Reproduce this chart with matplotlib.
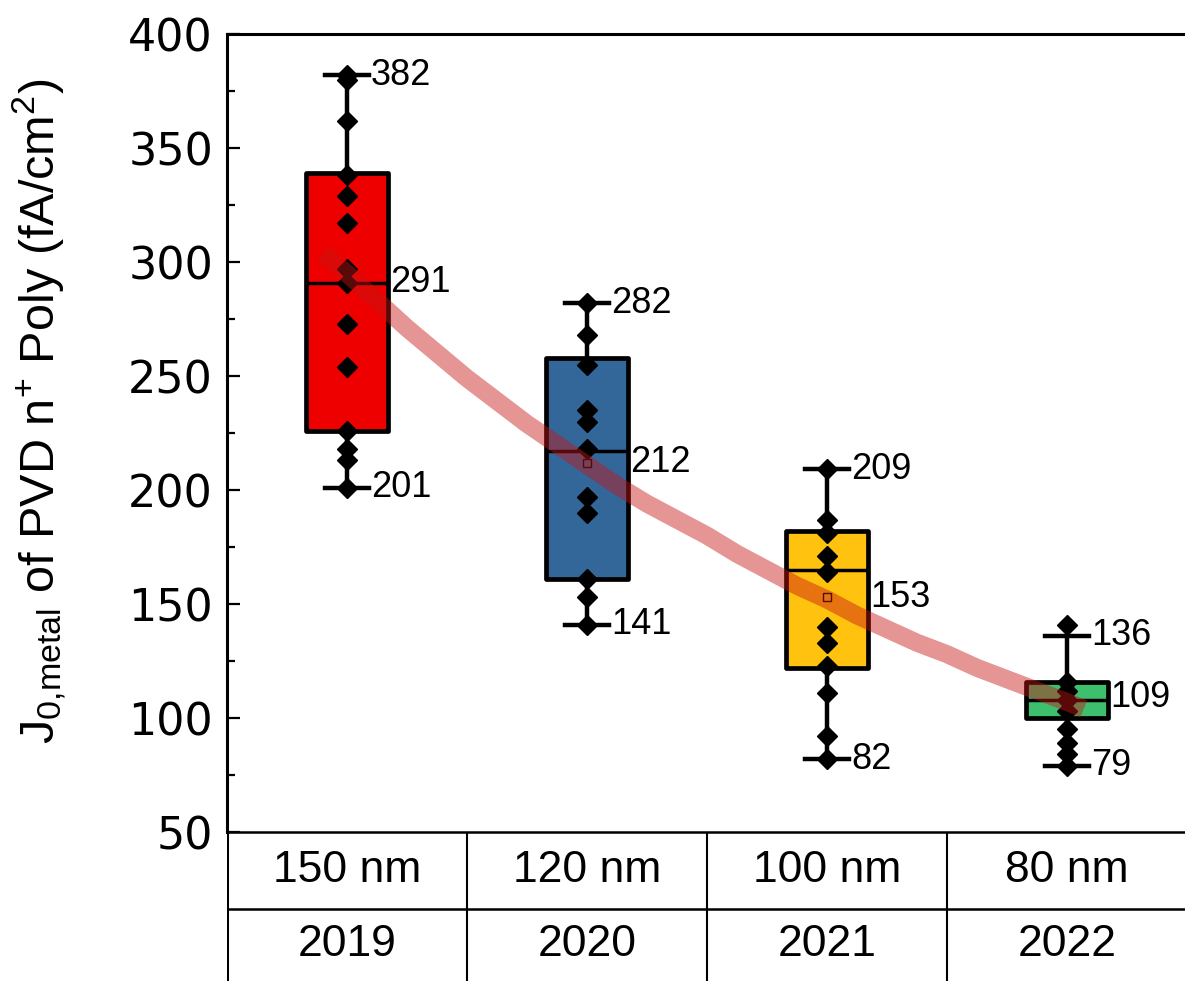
import matplotlib
matplotlib.use("Agg")
import matplotlib.pyplot as plt
from matplotlib import font_manager

# thickness / year table under the boxes
thickness = ['150 nm', '120 nm', '100 nm', '80 nm']
years = ['2019', '2020', '2021', '2022']
box_colors = ['#EE0000', '#336699', '#FFC20E', '#3DBF6E']

# individual J0 values per batch (fA/cm2)
j0_2019 = [382, 380, 362, 338, 329, 317, 297, 291, 273, 254, 226, 218, 213, 201]
j0_2020 = [282, 268, 255, 235, 230, 218, 197, 190, 161, 153, 141]
j0_2021 = [209, 187, 181, 171, 164, 140, 133, 123, 111, 92, 82]
j0_2022 = [141, 116, 112, 108, 103, 95, 89, 84, 79]
points = [j0_2019, j0_2020, j0_2021, j0_2022]

# box statistics
q1 = [226, 161, 122, 100]
med = [291, 217, 165, 108]
q3 = [339, 258, 182, 116]
whislo = [201, 141, 82, 79]
whishi = [382, 282, 209, 136]
means = [291, 212, 153, 109]

# trend guide through the batch means
trend_x = [0.9, 1.0, 1.125, 1.25, 1.375, 1.5, 1.625, 1.75, 1.875, 2.0, 2.125, 2.25,
           2.375, 2.5, 2.625, 2.75, 2.875, 3.0, 3.125, 3.25, 3.375, 3.5, 3.625,
           3.75, 3.875, 4.0, 4.07]
trend_y = [304, 295, 283, 271, 260, 249, 239, 229, 220, 211, 202, 194,
           187, 180, 172, 165, 158, 152, 145, 139, 133, 128, 122,
           117, 112, 107, 104]

names = {f.name for f in font_manager.fontManager.ttflist}
narrow = 'Liberation Sans Narrow' if 'Liberation Sans Narrow' in names else 'Liberation Sans'

plt.rcParams['font.family'] = ['Liberation Sans', 'DejaVu Sans']
plt.rcParams['mathtext.fontset'] = 'custom'
plt.rcParams['mathtext.rm'] = 'Liberation Sans'
plt.rcParams['mathtext.it'] = 'Liberation Sans'

W, H = 1185, 981
fig = plt.figure(figsize=(W / 100, H / 100), dpi=100)

left = 227 / W
width = 960 / W
top_px, bot_px = 34, 832
ax = fig.add_axes([left, 1 - bot_px / H, width, (bot_px - top_px) / H])

pos = [1, 2, 3, 4]
stats = []
for i in range(4):
    stats.append(dict(q1=q1[i], med=med[i], q3=q3[i], whislo=whislo[i],
                      whishi=whishi[i], mean=means[i], fliers=[]))

bp = ax.bxp(stats, positions=pos, widths=0.34, capwidths=0.18,
            patch_artist=True, showmeans=True, showfliers=False,
            boxprops=dict(linewidth=3.4, edgecolor='black', joinstyle='round'),
            whiskerprops=dict(linewidth=3.2, color='black'),
            capprops=dict(linewidth=3.2, color='black'),
            medianprops=dict(linewidth=2.5, color='black'),
            meanprops=dict(marker='s', markersize=6, markerfacecolor='none',
                           markeredgecolor='black', markeredgewidth=1))
for patch, c in zip(bp['boxes'], box_colors):
    patch.set_facecolor(c)
    patch.set_zorder(2)
for m in bp['means']:
    m.set_zorder(3)

for p, vals in zip(pos, points):
    ax.plot([p] * len(vals), vals, linestyle='none', marker='D', markersize=10,
            color='black', zorder=4)

ax.plot(trend_x, trend_y, color='#C81414', alpha=0.45, linewidth=13,
        solid_capstyle='butt', solid_joinstyle='round', zorder=6)

for i, p in enumerate(pos):
    ax.text(p + 0.1, whishi[i], str(whishi[i]), ha='left', va='center', fontsize=26)
    ax.text(p + 0.1, whislo[i], str(whislo[i]), ha='left', va='center', fontsize=26)
    ax.text(p + 0.18, means[i], str(means[i]), ha='left', va='center', fontsize=26)

ax.set_xlim(0.5, 4.5)
ax.set_ylim(50, 400)
ax.set_yticks(range(50, 401, 50))
ax.set_yticks(range(75, 400, 50), minor=True)
ax.set_xticks([])
ax.tick_params(axis='y', which='major', direction='in', length=9.5, width=1.6,
               pad=10, labelsize=32)
ax.tick_params(axis='y', which='minor', direction='in', length=6, width=1.6)
for lab in ax.get_yticklabels():
    lab.set_fontfamily('DejaVu Sans')
for s in ['left', 'top']:
    ax.spines[s].set_linewidth(2.2)
ax.spines['bottom'].set_linewidth(1.8)
ax.spines['right'].set_visible(False)

ax.set_ylabel(r'J$\mathregular{_{0{,}metal}}$ of PVD n$\mathregular{^{{+}}}$ Poly (fA/cm$\mathregular{^2}$)',
              fontsize=35)
ax.yaxis.set_label_coords(-0.165, 0.527)

# table under the plot
tab = fig.add_axes([left, 0, width, (H - bot_px) / H])
tab.set_xlim(0.5, 4.5)
tab.set_ylim(0, 1)
tab.axis('off')
split = (H - 909) / (H - bot_px)
tab.axhline(split, color='black', linewidth=1.8)
tab.axvline(0.5, color='black', linewidth=2.2)
for b in [1.5, 2.5, 3.5]:
    tab.axvline(b, color='black', linewidth=1.5)
for i, p in enumerate(pos):
    tab.text(p, (1 + split) / 2, thickness[i], ha='center', va='center',
             fontsize=32, family=narrow)
    tab.text(p, split / 2, years[i], ha='center', va='center',
             fontsize=32, family=narrow)

fig.savefig('out.png', dpi=100)
